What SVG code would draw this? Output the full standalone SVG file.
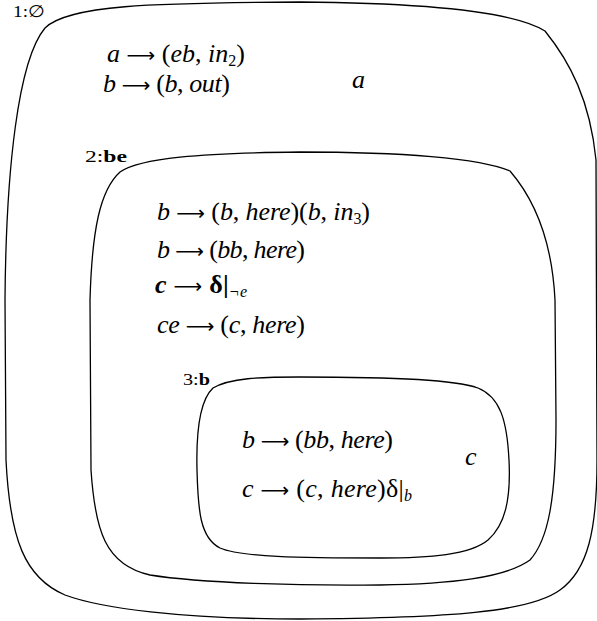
<svg xmlns="http://www.w3.org/2000/svg" width="597" height="621" viewBox="0 0 597 621">
<style>
.mem{fill:none;stroke:#000;stroke-width:1.3;stroke-linejoin:round}
.m{font-family:"Liberation Serif","DejaVu Serif",serif;font-size:26px;fill:#000}
.i{font-style:italic}
.s{font-size:16px}
.ar{font-family:"DejaVu Sans",sans-serif;font-size:20px;font-weight:normal}
.lbl{font-family:"Liberation Serif","DejaVu Serif",serif;font-size:17px;fill:#000}
.b{font-weight:bold}
.n{font-weight:normal}
</style>
<rect width="597" height="621" fill="#fff"/>
<g id="membrane1">
<path class="mem" d="M300 2 C430 3,515 12,545 31 C570 62,590 100,596 160 L597 460 C597 530,588 570,560 590 C530 612,450 618,300 619 C180 619,100 608,65 595 C25 578,10 540,6 460 L5 300 C6 170,18 60,45 28 C68 5,150 3,300 2 Z"/>
<text class="lbl" x="13" y="17" textLength="32" lengthAdjust="spacingAndGlyphs">1:∅</text>
<text class="m" x="107" y="62" textLength="138" lengthAdjust="spacing"><tspan class="i">a</tspan> <tspan class="ar">⟶</tspan> (<tspan class="i">eb</tspan>, <tspan class="i">in</tspan><tspan class="s" dy="4">2</tspan><tspan dy="-4">)</tspan></text>
<text class="m" x="103" y="92" textLength="127" lengthAdjust="spacing"><tspan class="i">b</tspan> <tspan class="ar">⟶</tspan> (<tspan class="i">b</tspan>, <tspan class="i">out</tspan>)</text>
<text class="m i" x="352" y="88">a</text>
</g>
<g id="membrane2">
<path class="mem" d="M300 152 C400 152,480 158,510 171 C535 200,552 240,555 300 L556 420 C556 500,548 540,530 560 C505 578,450 584,380 585 C300 586,200 583,150 575 C105 565,95 530,91 470 L90 300 C92 230,100 190,120 172 C140 158,200 153,300 152 Z"/>
<text class="lbl" x="85" y="162" textLength="42" lengthAdjust="spacingAndGlyphs">2:<tspan class="b">be</tspan></text>
<text class="m" x="157" y="220" textLength="213" lengthAdjust="spacing"><tspan class="i">b</tspan> <tspan class="ar">⟶</tspan> (<tspan class="i">b</tspan>, <tspan class="i">here</tspan>)(<tspan class="i">b</tspan>, <tspan class="i">in</tspan><tspan class="s" dy="4">3</tspan><tspan dy="-4">)</tspan></text>
<text class="m" x="157" y="258" textLength="148" lengthAdjust="spacing"><tspan class="i">b</tspan> <tspan class="ar">⟶</tspan> (<tspan class="i">bb</tspan>, <tspan class="i">here</tspan>)</text>
<text class="m b" x="155" y="293" textLength="92" lengthAdjust="spacing"><tspan class="i">c</tspan> <tspan class="ar">⟶</tspan> δ|<tspan class="s i n" dy="4">¬e</tspan></text>
<text class="m" x="157" y="333" textLength="148" lengthAdjust="spacing"><tspan class="i">ce</tspan> <tspan class="ar">⟶</tspan> (<tspan class="i">c</tspan>, <tspan class="i">here</tspan>)</text>
</g>
<g id="membrane3">
<path class="mem" d="M300 377 C400 377,455 380,478 388 C500 397,507 420,509 460 C511 500,505 525,488 540 C470 555,430 558,380 558 C300 558,240 557,220 548 C200 538,198 510,197 470 C196 430,200 400,213 388 C230 378,260 377,300 377 Z"/>
<text class="lbl" x="183" y="385" textLength="27" lengthAdjust="spacingAndGlyphs">3:<tspan class="b">b</tspan></text>
<text class="m" x="242" y="448" textLength="151" lengthAdjust="spacing"><tspan class="i">b</tspan> <tspan class="ar">⟶</tspan> (<tspan class="i">bb</tspan>, <tspan class="i">here</tspan>)</text>
<text class="m" x="242" y="497" textLength="170" lengthAdjust="spacing"><tspan class="i">c</tspan> <tspan class="ar">⟶</tspan> (<tspan class="i">c</tspan>, <tspan class="i">here</tspan>)δ|<tspan class="s i" dy="4">b</tspan></text>
<text class="m i" x="465" y="465">c</text>
</g>
</svg>
